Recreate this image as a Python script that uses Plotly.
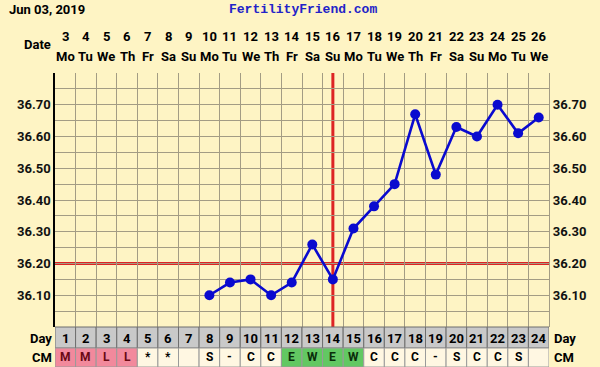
import plotly.graph_objects as go

# ---- data ----
cycle_days = list(range(1, 25))
dates = [3, 4, 5, 6, 7, 8, 9, 10, 11, 12, 13, 14, 15, 16, 17, 18, 19, 20, 21, 22, 23, 24, 25, 26]
weekdays = ["Mo", "Tu", "We", "Th", "Fr", "Sa", "Su", "Mo", "Tu", "We", "Th", "Fr",
            "Sa", "Su", "Mo", "Tu", "We", "Th", "Fr", "Sa", "Su", "Mo", "Tu", "We"]
cm = ["M", "M", "L", "L", "*", "*", "", "S", "-", "C", "C", "E",
      "W", "E", "W", "C", "C", "C", "-", "S", "C", "C", "S", ""]
temps = [None, None, None, None, None, None, None,
         36.10, 36.14, 36.15, 36.10, 36.14, 36.26, 36.15, 36.31, 36.38, 36.45,
         36.67, 36.48, 36.63, 36.60, 36.70, 36.61, 36.66]
temp_ticks = [36.10, 36.20, 36.30, 36.40, 36.50, 36.60, 36.70]
coverline = 36.20
ovulation_day = 14
chart_date = "Jun 03, 2019"
site = "FertilityFriend.com"

# ---- style ----
BG = "#FEF4C4"
GRID = "#A39C84"
BLUE = "#0A0ACF"
RED = "#DD2424"
PINK = "#F2899C"
GREEN = "#62C862"
GRAY = "#C9C9C9"
CELL = "#FFF7E2"
FONT = "Roboto"

W, H = 600, 367
ML, MR, MT, MB = 55, 51, 73, 40
PW = W - ML - MR
PH = H - MT - MB


def py(p):
    """pixel y -> paper y"""
    return (H - MB - p) / PH


def px(p):
    return (p - ML) / PW


fig = go.Figure()

fig.add_trace(go.Scatter(
    x=cycle_days, y=temps, mode="lines+markers",
    line=dict(color=BLUE, width=2.6),
    marker=dict(color=BLUE, size=10),
    connectgaps=False, hoverinfo="skip", showlegend=False,
))
# invisible trace for right axis
fig.add_trace(go.Scatter(x=[cycle_days[0]], y=[temp_ticks[0]], yaxis="y2",
                         mode="markers", marker=dict(opacity=0), showlegend=False,
                         hoverinfo="skip"))

ymin, ymax = 36.0, 36.8
grid_vals = [round(ymin + 0.05 * i, 2) for i in range(17)]

fig.update_layout(
    width=W, height=H,
    margin=dict(l=ML, r=MR, t=MT, b=MB, autoexpand=False),
    paper_bgcolor=BG, plot_bgcolor=BG,
    font=dict(family=FONT, size=13, color="black", weight=700),
    xaxis=dict(range=[0.5, 24.5], tickvals=[d + 0.5 for d in [0] + cycle_days],
               showticklabels=False, showgrid=True, gridcolor=GRID, gridwidth=1.3,
               zeroline=False, ticks="", fixedrange=True, automargin=False),
    yaxis=dict(range=[ymin, ymax], tickvals=grid_vals,
               ticktext=[f"{v:.2f}" if any(abs(v - t) < 1e-6 for t in temp_ticks) else "" for v in grid_vals],
               showgrid=True, gridcolor=GRID, gridwidth=1.3, zeroline=False,
               showline=True, linecolor="black", linewidth=1.5, ticks="", automargin=False,
               tickfont=dict(family=FONT, size=13, color="#111", weight=700)),
    yaxis2=dict(range=[ymin, ymax], overlaying="y", side="right", tickvals=temp_ticks,
                ticktext=[f"{v:.2f}" for v in temp_ticks], showgrid=False, zeroline=False,
                ticks="", showline=True, linecolor=GRID, linewidth=1.3, automargin=False,
                tickfont=dict(family=FONT, size=13, color="#111", weight=700)),
)

shapes = []
# coverline and ovulation line
shapes.append(dict(type="line", xref="paper", yref="y", x0=0, x1=1, y0=coverline, y1=coverline,
                   line=dict(color=RED, width=3), layer="between"))
shapes.append(dict(type="line", xref="x", yref="paper", x0=ovulation_day, x1=ovulation_day,
                   y0=0, y1=1, line=dict(color=RED, width=3), layer="between"))

row_h = 21 / PH
for i, d in enumerate(cycle_days):
    # Day row
    shapes.append(dict(type="rect", xref="x", yref="paper", x0=d - 0.5, x1=d + 0.5,
                       y0=-row_h, y1=0, fillcolor=GRAY, line=dict(color="#6E6E6E", width=1),
                       layer="above"))
    c = cm[i]
    if c in ("M", "L"):
        fill = PINK
    elif c in ("E", "W"):
        fill = GREEN
    else:
        fill = CELL
    shapes.append(dict(type="rect", xref="x", yref="paper", x0=d - 0.5, x1=d + 0.5,
                       y0=-MB / PH, y1=-row_h, fillcolor=fill, line=dict(color="#9A9A9A", width=1),
                       layer="above"))

fig.update_layout(shapes=shapes)

ann = []
ann.append(dict(text=chart_date, xref="paper", yref="paper", x=px(7), y=py(9),
                xanchor="left", yanchor="middle", showarrow=False,
                font=dict(family=FONT, size=13, color="black", weight=700)))
ann.append(dict(text=site, xref="paper", yref="paper", x=px(303), y=py(9),
                xanchor="center", yanchor="middle", showarrow=False,
                font=dict(family="Liberation Mono", size=13, color="#2323C8", weight=700)))
ann.append(dict(text="Date", xref="paper", yref="paper", x=px(53), y=py(44),
                xanchor="right", yanchor="middle", showarrow=False,
                font=dict(family=FONT, size=13, color="black", weight=700)))
for lbl, p in (("Day", 338), ("CM", 357)):
    ann.append(dict(text=lbl, xref="paper", yref="paper", x=px(54), y=py(p),
                    xanchor="right", yanchor="middle", showarrow=False,
                    font=dict(family=FONT, size=13, color="black", weight=700)))
    ann.append(dict(text=lbl, xref="paper", yref="paper", x=px(552), y=py(p),
                    xanchor="left", yanchor="middle", showarrow=False,
                    font=dict(family=FONT, size=13, color="black", weight=700)))

for i, d in enumerate(cycle_days):
    ann.append(dict(text=str(dates[i]), xref="x", yref="paper", x=d, y=py(36),
                    xanchor="center", yanchor="middle", showarrow=False,
                    font=dict(family=FONT, size=13, color="black", weight=700)))
    ann.append(dict(text=weekdays[i], xref="x", yref="paper", x=d, y=py(57),
                    xanchor="center", yanchor="middle", showarrow=False,
                    font=dict(family=FONT, size=13, color="black", weight=700)))
    ann.append(dict(text=str(d), xref="x", yref="paper", x=d, y=py(338),
                    xanchor="center", yanchor="middle", showarrow=False,
                    font=dict(family=FONT, size=13, color="black", weight=700)))
    c = cm[i]
    if c:
        col = "#6A0A14" if c in ("M", "L") else ("#0B2E0B" if c in ("E", "W") else "black")
        ann.append(dict(text=c, xref="x", yref="paper", x=d, y=py(357),
                        xanchor="center", yanchor="middle", showarrow=False,
                        font=dict(family=FONT, size=12, color=col, weight=700)))

fig.update_layout(annotations=ann)

fig.write_html("out.html", config={"displayModeBar": False},
               post_script="document.body.style.margin='0';document.body.style.overflow='hidden';")
